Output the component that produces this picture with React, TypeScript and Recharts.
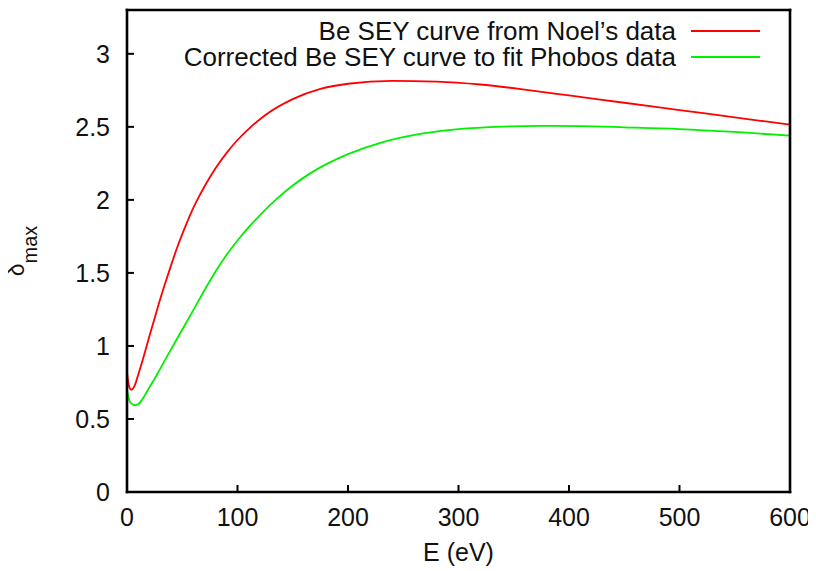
import { LineChart, Line, XAxis, YAxis, Legend } from "recharts"

// Be secondary electron yield vs. primary energy
const noelEnergy = [0, 2, 4, 7, 10, 15, 20, 25, 30, 35, 40, 45, 50, 55, 60, 65, 70, 75, 80, 90, 100, 110, 125, 150, 175, 200, 240, 280, 320, 365, 400, 450, 500, 550, 600]
const noelSey = [0.82, 0.72, 0.7, 0.73, 0.8, 0.925, 1.06, 1.19, 1.32, 1.44, 1.555, 1.665, 1.765, 1.858, 1.945, 2.02, 2.09, 2.155, 2.215, 2.32, 2.41, 2.485, 2.58, 2.69, 2.76, 2.795, 2.815, 2.81, 2.79, 2.75, 2.715, 2.665, 2.615, 2.565, 2.515]

const phobosEnergy = [0, 2, 4, 7.5, 10, 13, 16, 20, 25, 30, 36, 48, 60, 70, 80, 90, 100, 110, 120, 135, 150, 165, 180, 200, 230, 268, 300, 340, 375, 410, 450, 500, 550, 600]
const phobosSey = [0.7, 0.63, 0.605, 0.594, 0.6, 0.625, 0.66, 0.713, 0.775, 0.843, 0.925, 1.085, 1.245, 1.38, 1.508, 1.622, 1.722, 1.812, 1.893, 2.003, 2.098, 2.178, 2.243, 2.313, 2.392, 2.455, 2.485, 2.502, 2.507, 2.505, 2.497, 2.485, 2.465, 2.44]

const xTicks = [0, 100, 200, 300, 400, 500, 600]
const yTicks = [0, 0.5, 1, 1.5, 2, 2.5, 3]

const noelData = noelEnergy.map((e, i) => ({ e, d: noelSey[i] }))
const phobosData = phobosEnergy.map((e, i) => ({ e, d: phobosSey[i] }))

const FONT = "'Liberation Sans', Arial, Helvetica, sans-serif"
const frame = { stroke: "#000", strokeWidth: 2.6, strokeLinecap: "square" as const }
const tickMark = { stroke: "#000", strokeWidth: 2 }

function DeltaLabel(props: any) {
  const vb = props.viewBox || { x: 0, y: 2, width: 119, height: 482 }
  const cy = vb.y + vb.height / 2
  return (
    <text
      transform="rotate(-90)"
      x={-cy}
      y={16}
      textAnchor="middle"
      fontFamily={FONT}
      fontSize={23}
      fill="#111"
    >
      δ
      <tspan fontSize={20} dy={13}>max</tspan>
    </text>
  )
}

function KeyBox({ payload }: any) {
  return (
    <div style={{ fontFamily: FONT, fontSize: 26, color: "#111" }}>
      {(payload || []).map((p: any) => (
        <div
          key={p.value}
          style={{ display: "flex", justifyContent: "flex-end", alignItems: "center", height: 26, whiteSpace: "nowrap" }}
        >
          <span style={{ lineHeight: "26px" }}>{p.value}</span>
          <svg width={84} height={10}>
            <line x1={15} x2={84} y1={5} y2={5} stroke={p.color} strokeWidth={2} />
          </svg>
        </div>
      ))}
    </div>
  )
}

export default function App() {
  return (
    <LineChart
      width={808}
      height={563}
      margin={{ top: 0, right: 0, bottom: 0, left: 0 }}
      style={{ fontFamily: FONT }}
    >
      <XAxis
        xAxisId={0}
        dataKey="e"
        type="number"
        domain={[0, 600]}
        ticks={xTicks}
        allowDataOverflow
        height={79}
        axisLine={frame}
        tickLine={tickMark}
        tickSize={-7}
        tickMargin={23}
        tick={{ fontSize: 25, fill: "#111" }}
        label={{ value: "E (eV)", position: "insideBottom", offset: 10, fontSize: 25, fill: "#111" }}
      />
      <XAxis
        xAxisId="top"
        orientation="top"
        dataKey="e"
        type="number"
        domain={[0, 600]}
        ticks={xTicks}
        allowDataOverflow
        height={2}
        axisLine={frame}
        tickLine={tickMark}
        tickSize={-7}
        tick={false}
      />
      <YAxis
        yAxisId={0}
        type="number"
        domain={[0, 3.3]}
        ticks={yTicks}
        allowDataOverflow
        width={119}
        axisLine={frame}
        tickLine={tickMark}
        tickSize={-7}
        tickMargin={24}
        tick={{ fontSize: 25, fill: "#111" }}
        label={<DeltaLabel />}
      />
      <YAxis
        yAxisId="right"
        orientation="right"
        type="number"
        domain={[0, 3.3]}
        ticks={yTicks}
        allowDataOverflow
        width={26}
        axisLine={frame}
        tickLine={tickMark}
        tickSize={-7}
        tick={false}
      />
      <Legend
        layout="horizontal"
        verticalAlign="middle"
        align="center"
        content={<KeyBox />}
        wrapperStyle={{ top: 10, left: 0, width: 752, height: 52 }}
      />
      <Line
        data={noelData}
        dataKey="d"
        name="Be SEY curve from Noel’s data"
        type="monotone"
        stroke="#ff0000"
        strokeWidth={1.8}
        dot={false}
        activeDot={false}
        isAnimationActive={false}
      />
      <Line
        data={phobosData}
        dataKey="d"
        name="Corrected Be SEY curve to fit Phobos data"
        type="monotone"
        stroke="#00f000"
        strokeWidth={1.8}
        dot={false}
        activeDot={false}
        isAnimationActive={false}
      />
    </LineChart>
  )
}
